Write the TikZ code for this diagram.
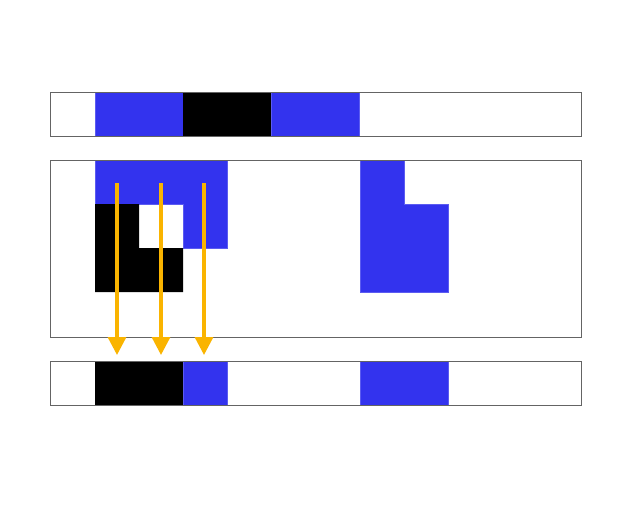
\documentclass[tikz,border=0pt]{standalone}
\usetikzlibrary{arrows.meta}
\definecolor{cblue}{RGB}{51,51,238}
\definecolor{corange}{RGB}{250,180,0}
\definecolor{cgray}{RGB}{100,100,100}
\tikzset{
  bluecell/.style={fill=cblue,draw=cblue!80!white,line width=0.6pt},
  blackcell/.style={fill=black},
  frame/.style={draw=cgray,line width=0.9pt},
  flow/.style={draw=corange,line width=3.3pt,-{Triangle[length=18pt,width=18pt]}}
}
\begin{document}
\begin{tikzpicture}[x=1pt,y=-1pt]
\useasboundingbox[fill=white] (0,0) rectangle (640,512);
% top bar
\fill[bluecell] (95,92) rectangle (183,136);
\fill[blackcell] (183,92) rectangle (271,136);
\fill[bluecell] (271,92) rectangle (359,136);
\draw[frame] (50,92) rectangle (581,136);
% middle panel
\fill[bluecell] (95,160) -- (227,160) -- (227,248) -- (183,248) -- (183,204) -- (95,204) -- cycle;
\fill[blackcell] (95,204) -- (139,204) -- (139,248) -- (183,248) -- (183,292) -- (95,292) -- cycle;
\fill[bluecell] (360,160) -- (404,160) -- (404,204) -- (448,204) -- (448,292) -- (360,292) -- cycle;
\draw[frame] (50,160) rectangle (581,337);
% bottom bar
\fill[blackcell] (95,361) rectangle (183,405);
\fill[bluecell] (183,361) rectangle (227,405);
\fill[bluecell] (360,361) rectangle (448,405);
\draw[frame] (50,361) rectangle (581,405);
% arrows
\coordinate (s1) at (117,183); \coordinate (e1) at (117,355);
\coordinate (s2) at (161,183); \coordinate (e2) at (161,355);
\coordinate (s3) at (204,183); \coordinate (e3) at (204,355);
\draw[flow] (s1) -- (e1);
\draw[flow] (s2) -- (e2);
\draw[flow] (s3) -- (e3);
\end{tikzpicture}
\end{document}
